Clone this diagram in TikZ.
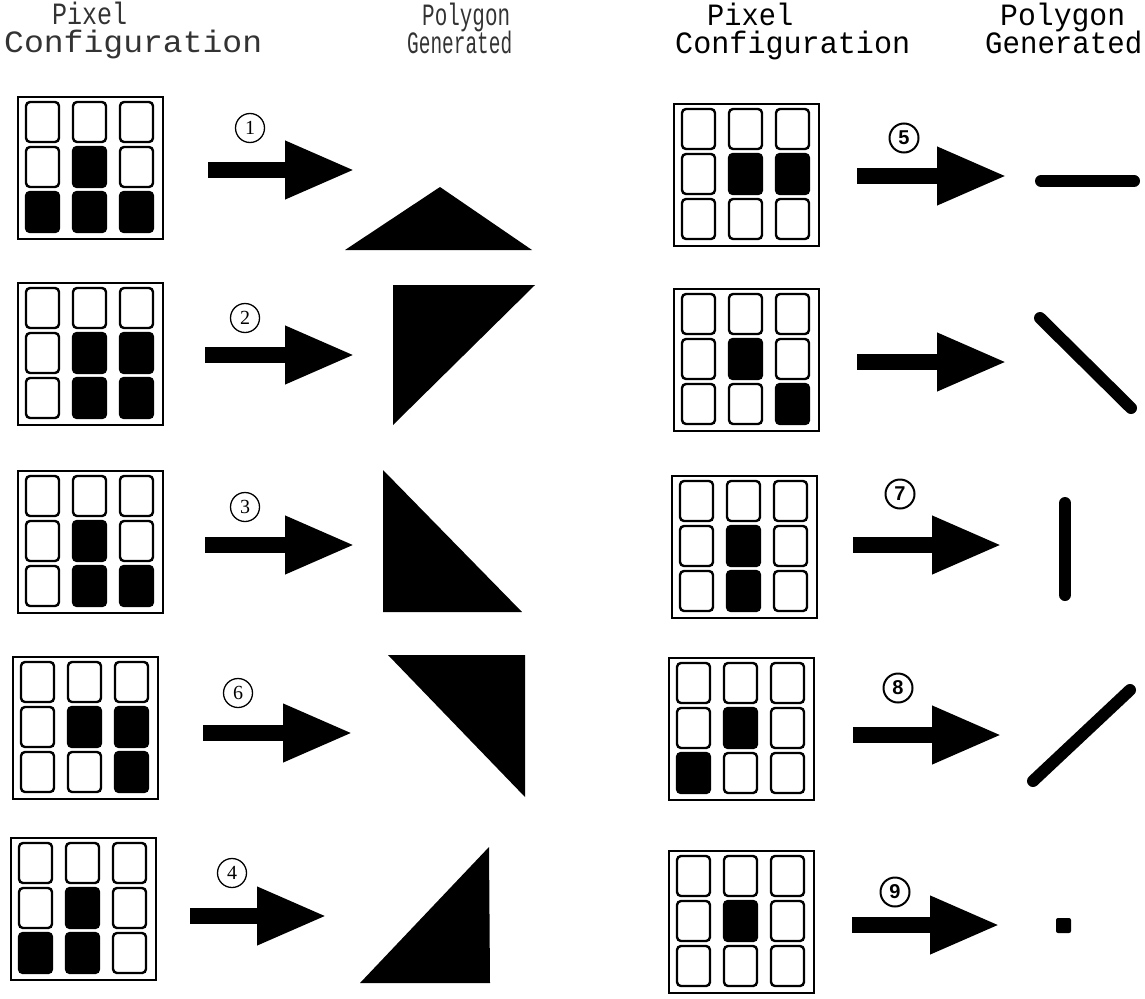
\documentclass[tikz,border=0pt]{standalone}
\usepackage{fontspec}
\usepackage{graphicx}
\usetikzlibrary{arrows.meta}
\newfontfamily\hdrmono{Liberation Mono}
\newfontfamily\hdrserif{Liberation Serif}
\newfontfamily\numsans{Liberation Sans}
\newcommand\fitw[2]{\resizebox{#1pt}{\height}{#2}}
\newcommand\hdrfont{\hdrmono\fontsize{31}{28}\selectfont\lineskiplimit-100pt\relax}
\tikzset{
  gridbox/.style={draw, line width=1.6pt, rectangle, minimum width=145pt, minimum height=142pt, inner sep=0pt},
  cellw/.style={draw, line width=2.4pt, rounded corners=4pt},
  cellb/.style={cellw, fill=black},
  fatarrow/.style={line width=16pt, -{Triangle[length=70pt 0, width=54pt 0]}},
  numL/.style={circle, draw, line width=1.3pt, minimum size=29pt, inner sep=0pt, font=\hdrserif\fontsize{20}{20}\selectfont},
  numR/.style={circle, draw, line width=2pt, minimum size=29pt, inner sep=0pt, font=\numsans\bfseries\fontsize{20}{20}\selectfont},
  polyline/.style={line width=12pt, line cap=round},
  hdr/.style={anchor=north west, inner sep=0pt, align=left, font=\hdrfont},
  hdrL/.style={hdr, text=black!80},
  hdrR/.style={hdr}
}
\newcommand\pixgrid[4]{%
  \node[gridbox, anchor=north west] (#1) at (#2,#3) {};
  \begin{scope}[shift={(#2,#3)}]
  \foreach \v [count=\i from 0] in {#4}{%
    \pgfmathtruncatemacro\cc{mod(\i,3)}%
    \pgfmathtruncatemacro\rr{div(\i,3)}%
    \pgfmathsetmacro\xx{9+47*\cc}%
    \pgfmathsetmacro\yy{6+45*\rr}%
    \ifnum\v=1 \draw[cellb] (\xx,\yy) rectangle ++(33,40);%
    \else \draw[cellw] (\xx,\yy) rectangle ++(33,40);\fi
  }
  \end{scope}}
\begin{document}
\begin{tikzpicture}[x=1pt, y=-1pt]
\useasboundingbox (0,0) rectangle (1145,998);
% headers
\node[hdrL] (hL1) at (4,2) {\hspace*{48pt}\fitw{75}{Pixel}\\\fitw{258}{Configuration}};
\node[hdrL] (hL2) at (407,3) {\hspace*{15pt}\fitw{88}{Polygon}\\\fitw{105}{Generated}};
\node[hdrR] (hR1) at (675,3) {\hspace*{32pt}\fitw{86}{Pixel}\\\fitw{235}{Configuration}};
\node[hdrR] (hR2) at (985,3) {\hspace*{15pt}\fitw{125}{Polygon}\\\fitw{157}{Generated}};
% left grids
\pixgrid{gL1}{17}{96}{0,0,0,0,1,0,1,1,1}
\pixgrid{gL2}{17}{282}{0,0,0,0,1,1,0,1,1}
\pixgrid{gL3}{17}{470}{0,0,0,0,1,0,0,1,1}
\pixgrid{gL4}{12}{656}{0,0,0,0,1,1,0,0,1}
\pixgrid{gL5}{10}{837}{0,0,0,0,1,0,1,1,0}
% right grids
\pixgrid{gR1}{673}{103}{0,0,0,0,1,1,0,0,0}
\pixgrid{gR2}{673}{288}{0,0,0,0,1,0,0,0,1}
\pixgrid{gR3}{671}{475}{0,0,0,0,1,0,0,1,0}
\pixgrid{gR4}{668}{657}{0,0,0,0,1,0,1,0,0}
\pixgrid{gR5}{668}{850}{0,0,0,0,1,0,0,0,0}
% left arrows
\coordinate (aL1s) at (208,170); \coordinate (aL1e) at (355,170);
\coordinate (aL2s) at (205,355); \coordinate (aL2e) at (355,355);
\coordinate (aL3s) at (205,545); \coordinate (aL3e) at (355,545);
\coordinate (aL4s) at (203,733); \coordinate (aL4e) at (353,733);
\coordinate (aL5s) at (190,916); \coordinate (aL5e) at (327,916);
\foreach \k in {1,...,5} \draw[fatarrow] (aL\k s) -- (aL\k e);
% right arrows
\coordinate (aR1s) at (857,176); \coordinate (aR1e) at (1007,176);
\coordinate (aR2s) at (857,362); \coordinate (aR2e) at (1007,362);
\coordinate (aR3s) at (853,545); \coordinate (aR3e) at (1002,545);
\coordinate (aR4s) at (853,735); \coordinate (aR4e) at (1002,735);
\coordinate (aR5s) at (852,925); \coordinate (aR5e) at (1000,925);
\foreach \k in {1,...,5} \draw[fatarrow] (aR\k s) -- (aR\k e);
% labels
\node[numL] (nL1) at (250,128) {1};
\node[numL] (nL2) at (245,318) {2};
\node[numL] (nL3) at (245,507) {3};
\node[numL] (nL4) at (238,693) {6};
\node[numL] (nL5) at (232,873) {4};
\node[numR] (nR1) at (904,138) {5};
\node[numR] (nR3) at (900,494) {7};
\node[numR] (nR4) at (898,688) {8};
\node[numR] (nR5) at (895,892) {9};
% left polygons
\fill (440,187) -- (345,250) -- (532,250) -- cycle;
\fill (393,285) -- (535,285) -- (393,425) -- cycle;
\fill (383,470) -- (383,612) -- (522,612) -- cycle;
\fill (388,655) -- (525,655) -- (525,797) -- cycle;
\fill (489,847) -- (360,983) -- (490,983) -- cycle;
% right polygons
\coordinate (p1a) at (1041,181); \coordinate (p1b) at (1134,181);
\draw[polyline] (p1a) -- (p1b);
\coordinate (p2a) at (1040,318); \coordinate (p2b) at (1131,408);
\draw[polyline] (p2a) -- (p2b);
\coordinate (p3a) at (1065,503); \coordinate (p3b) at (1065,595);
\draw[polyline] (p3a) -- (p3b);
\coordinate (p4a) at (1033,781); \coordinate (p4b) at (1130,690);
\draw[polyline] (p4a) -- (p4b);
\fill[rounded corners=2pt] (1056,918) rectangle (1071,933);
\end{tikzpicture}
\end{document}
